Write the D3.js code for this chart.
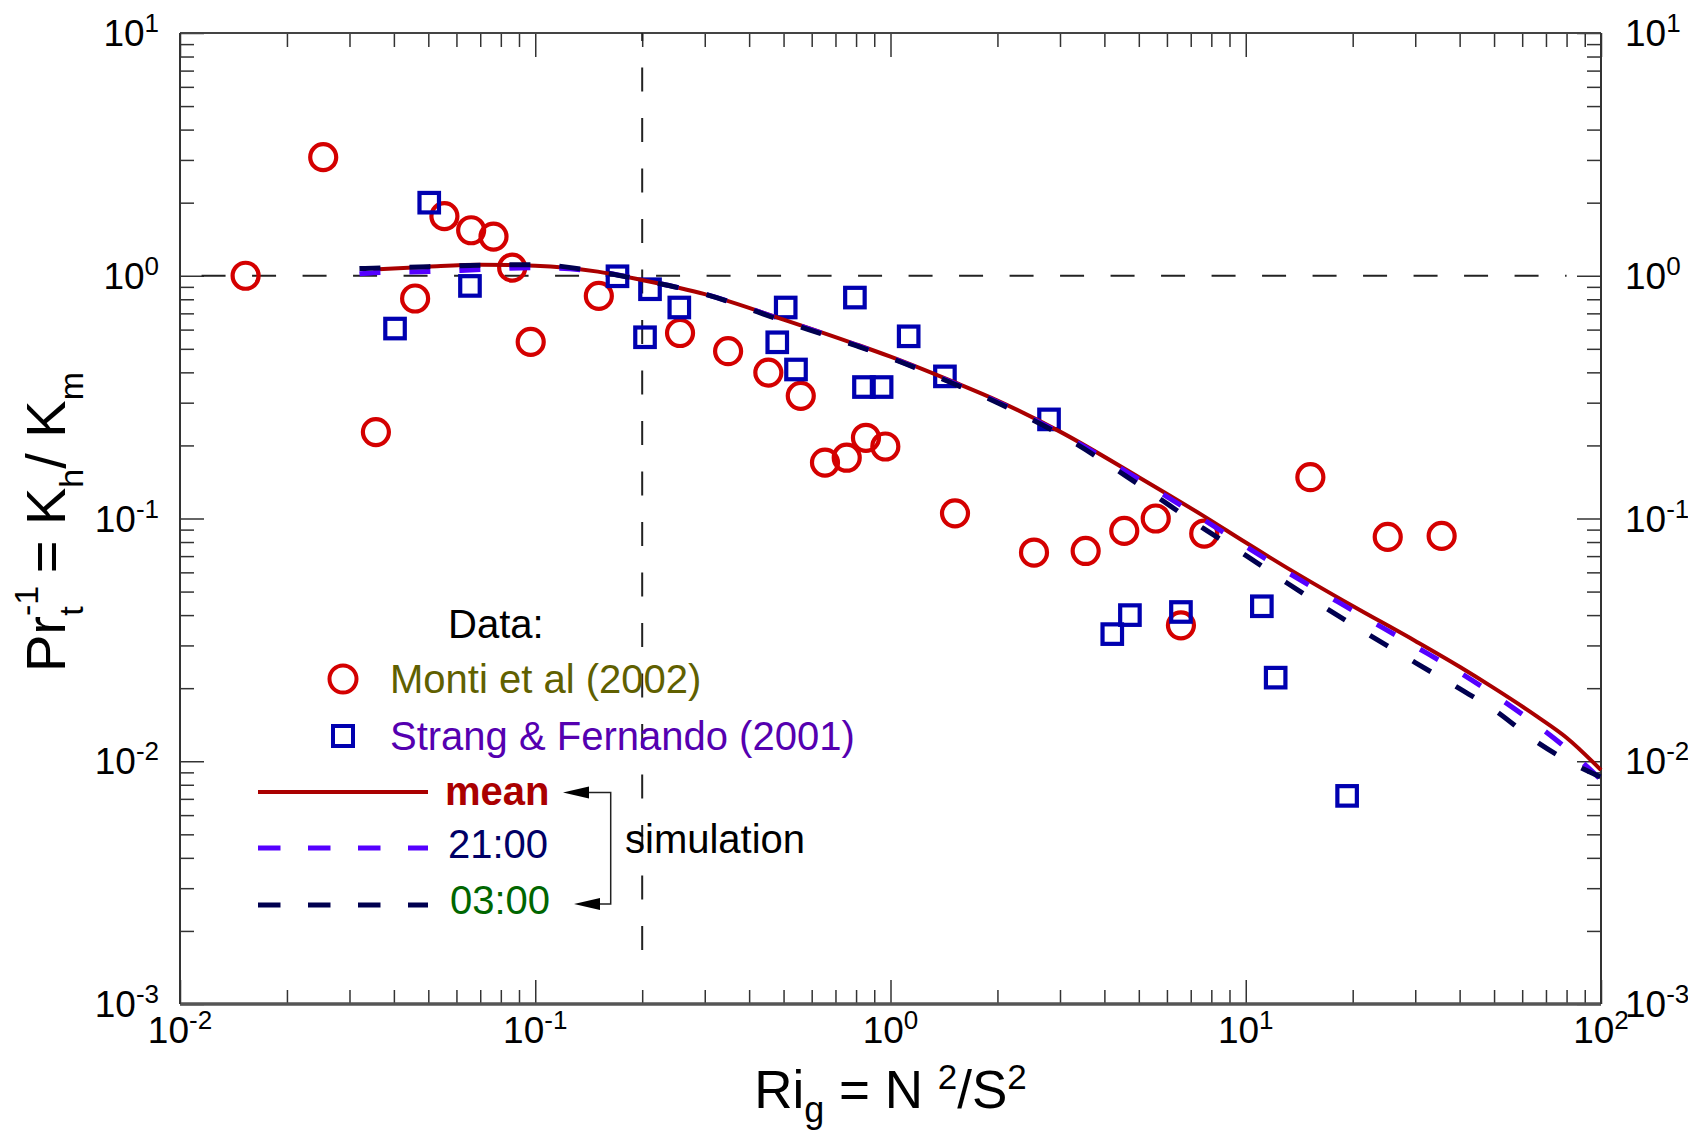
<!DOCTYPE html>
<html>
<head>
<meta charset="utf-8">
<script src="https://cdn.jsdelivr.net/npm/d3@7"></script>
<style>
  body { margin: 0; background: #fff; }
  svg { display: block; font-family: Arial, "Liberation Sans", sans-serif; }
</style>
</head>
<body>
<div id="chart"></div>
<script>
// Monti et al (2002) observations
const montiRi = [0.0153, 0.0253, 0.0356, 0.0459, 0.0555, 0.066, 0.0763, 0.0861, 0.0971, 0.151, 0.2556, 0.349, 0.453, 0.559, 0.654, 0.753, 0.853, 0.967, 1.519, 2.535, 3.543, 4.55, 5.58, 6.57, 7.64, 15.2, 25.1, 35.6];
const montiPr = [1.0, 3.08, 0.227, 0.806, 1.76, 1.54, 1.45, 1.08, 0.534, 0.826, 0.581, 0.489, 0.399, 0.32, 0.17, 0.178, 0.215, 0.198, 0.105, 0.0724, 0.0735, 0.0889, 0.1, 0.0363, 0.0867, 0.148, 0.084, 0.0848];

// Strang & Fernando (2001) observations
const strangRi = [0.0403, 0.0503, 0.0655, 0.1704, 0.2037, 0.2104, 0.2544, 0.48, 0.507, 0.542, 0.794, 0.842, 0.944, 1.125, 1.423, 2.794, 4.21, 4.72, 6.57, 11.1, 12.14, 19.29];
const strangPr = [0.606, 2.0, 0.908, 0.995, 0.558, 0.88, 0.74, 0.532, 0.74, 0.411, 0.813, 0.348, 0.348, 0.563, 0.385, 0.256, 0.0334, 0.04, 0.0412, 0.0435, 0.0221, 0.0072];

// simulation curves (mean starts a little later)
const simRi  = [0.032, 0.035, 0.05, 0.07, 0.1, 0.15, 0.2, 0.3, 0.5, 0.8, 1, 1.5, 2, 3, 5, 7.6, 10, 13, 20, 30, 40, 50, 66, 80, 100];
const meanPr = [null, 1.06, 1.09, 1.11, 1.10, 1.04, 0.96, 0.84, 0.66, 0.522, 0.464, 0.366, 0.306, 0.228, 0.148, 0.1025, 0.0796, 0.0629, 0.0436, 0.0313, 0.0245, 0.0200, 0.0153, 0.0125, 0.0092];
const pr2100 = [1.02, 1.03, 1.04, 1.06, 1.08, 1.04, 0.96, 0.84, 0.655, 0.518, 0.46, 0.362, 0.302, 0.225, 0.145, 0.099, 0.0768, 0.0605, 0.0418, 0.0297, 0.0232, 0.0188, 0.0141, 0.0113, 0.0084];
const pr0300 = [1.07, 1.075, 1.09, 1.105, 1.11, 1.04, 0.96, 0.84, 0.65, 0.515, 0.458, 0.360, 0.300, 0.222, 0.138, 0.091, 0.0705, 0.0545, 0.0365, 0.0255, 0.0199, 0.0163, 0.0120, 0.0101, 0.0086];

// reference lines
const refHRi = [0.0115, 80];     // Pr^-1 = 1
const refVPr = [0.00167, 10];    // Ri = 0.2 (drawn bottom up)
const refVRi = 0.2;

// ticks
const xTickExps = [-2, -1, 0, 1, 2];
const yTickExps = [-3, -2, -1, 0, 1];

const W = 1688, H = 1131;
const margin = { top: 33, right: 87, bottom: 127, left: 180 };

const svg = d3.select("#chart").append("svg")
  .attr("width", W)
  .attr("height", H);

const x = d3.scaleLog().domain([0.01, 100]).range([margin.left, W - margin.right]);
const y = d3.scaleLog().domain([0.001, 10]).range([H - margin.bottom, margin.top]);
const [x0, x1] = x.range();
const [y0, y1] = y.range();

function minorTicks(lo, hi) {
  const t = [];
  for (let e = lo; e < hi; e++) for (let k = 2; k <= 9; k++) t.push(k * Math.pow(10, e));
  return t;
}
const xMajor = xTickExps.map(e => Math.pow(10, e));
const yMajor = yTickExps.map(e => Math.pow(10, e));
const xMinor = minorTicks(-2, 2);
const yMinor = minorTicks(-3, 1);

function styleAxis(g) {
  g.select(".domain").remove();
  g.selectAll(".tick line").attr("stroke", "#333").attr("stroke-width", 1.5);
  g.selectAll(".tick text").remove();
}

[[xMajor, 24], [xMinor, 14]].forEach(([vals, len]) => {
  svg.append("g").attr("transform", `translate(0,${y0})`)
    .call(d3.axisBottom(x).tickValues(vals).tickSizeInner(-len).tickSizeOuter(0).tickFormat(""))
    .call(styleAxis);
  svg.append("g").attr("transform", `translate(0,${y1})`)
    .call(d3.axisTop(x).tickValues(vals).tickSizeInner(-len).tickSizeOuter(0).tickFormat(""))
    .call(styleAxis);
});
[[yMajor, 24], [yMinor, 14]].forEach(([vals, len]) => {
  svg.append("g").attr("transform", `translate(${x0},0)`)
    .call(d3.axisLeft(y).tickValues(vals).tickSizeInner(-len).tickSizeOuter(0).tickFormat(""))
    .call(styleAxis);
  svg.append("g").attr("transform", `translate(${x1},0)`)
    .call(d3.axisRight(y).tickValues(vals).tickSizeInner(-len).tickSizeOuter(0).tickFormat(""))
    .call(styleAxis);
});

// frame
svg.append("line").attr("x1", x0).attr("x2", x1).attr("y1", y0).attr("y2", y0)
  .attr("stroke", "#555").attr("stroke-width", 3.5);
svg.append("line").attr("x1", x0).attr("x2", x1).attr("y1", y1).attr("y2", y1)
  .attr("stroke", "#444").attr("stroke-width", 2);
svg.append("line").attr("x1", x0).attr("x2", x0).attr("y1", y0).attr("y2", y1)
  .attr("stroke", "#333").attr("stroke-width", 2);
svg.append("line").attr("x1", x1).attr("x2", x1).attr("y1", y0).attr("y2", y1)
  .attr("stroke", "#333").attr("stroke-width", 2);

// power-of-ten labels
function powLabel(px, py, exp, anchor) {
  const t = svg.append("text")
    .attr("x", px).attr("y", py)
    .attr("text-anchor", anchor)
    .attr("font-size", 37)
    .attr("fill", "#000");
  t.append("tspan").text("10");
  t.append("tspan").attr("font-size", 26).attr("dy", -14).text(exp);
}
xTickExps.forEach(e => powLabel(x(Math.pow(10, e)), y0 + 39, e, "middle"));
yTickExps.forEach(e => {
  powLabel(x0 - 21, y(Math.pow(10, e)) + 13, e, "end");
  powLabel(x1 + 24, y(Math.pow(10, e)) + 13, e, "start");
});

// axis titles
const xt = svg.append("text")
  .attr("x", (x0 + x1) / 2).attr("y", 1108)
  .attr("text-anchor", "middle")
  .attr("font-size", 53);
xt.append("tspan").text("Ri");
xt.append("tspan").attr("font-size", 36).attr("dy", 14).text("g");
xt.append("tspan").attr("dy", -14).text(" = N ");
xt.append("tspan").attr("font-size", 35).attr("dy", -19).text("2");
xt.append("tspan").attr("dy", 19).text("/S");
xt.append("tspan").attr("font-size", 35).attr("dy", -19).text("2");

const yt = svg.append("text")
  .attr("transform", `translate(65,522) rotate(-90)`)
  .attr("text-anchor", "middle")
  .attr("font-size", 56);
yt.append("tspan").text("Pr");
yt.append("tspan").attr("font-size", 34).attr("dy", -27).text("-1");
yt.append("tspan").attr("font-size", 34).attr("dx", -30).attr("dy", 45).text("t");
yt.append("tspan").attr("dx", 33).attr("dy", -18).text("= K");
yt.append("tspan").attr("font-size", 34).attr("dy", 18).text("h");
yt.append("tspan").attr("dy", -18).text("/ K");
yt.append("tspan").attr("font-size", 34).attr("dy", 18).text("m");

// reference dashed lines
svg.append("line")
  .attr("x1", x(refHRi[0])).attr("x2", x(refHRi[1]))
  .attr("y1", y(1)).attr("y2", y(1))
  .attr("stroke", "#222").attr("stroke-width", 2)
  .attr("stroke-dasharray", "24,26.5");
svg.append("line")
  .attr("x1", x(refVRi)).attr("x2", x(refVRi))
  .attr("y1", y(refVPr[0])).attr("y2", y(refVPr[1]))
  .attr("stroke", "#222").attr("stroke-width", 2)
  .attr("stroke-dasharray", "24,26.5");

// observations
const monti = montiRi.map((r, i) => ({ r, v: montiPr[i] }));
const strang = strangRi.map((r, i) => ({ r, v: strangPr[i] }));

svg.append("g").selectAll("circle")
  .data(monti)
  .enter()
  .append("circle")
  .attr("cx", d => x(d.r))
  .attr("cy", d => y(d.v))
  .attr("r", 13)
  .attr("fill", "none")
  .attr("stroke", "#d40000")
  .attr("stroke-width", 4.2);

const sq = 19.5;
svg.append("g").selectAll("rect")
  .data(strang)
  .enter()
  .append("rect")
  .attr("x", d => x(d.r) - sq / 2)
  .attr("y", d => y(d.v) - sq / 2)
  .attr("width", sq)
  .attr("height", sq)
  .attr("fill", "none")
  .attr("stroke", "#0000b0")
  .attr("stroke-width", 4.2);

// simulation curves
const line = d3.line()
  .defined(d => d.v != null)
  .x(d => x(d.r))
  .y(d => y(d.v))
  .curve(d3.curveMonotoneX);

const curves = [
  { vals: meanPr, color: "#aa0000", width: 4, dash: null },
  { vals: pr2100, color: "#5500ff", width: 5, dash: "21,29" },
  { vals: pr0300, color: "#000050", width: 5, dash: "21,29" }
];
curves.forEach(c => {
  svg.append("path")
    .datum(simRi.map((r, i) => ({ r, v: c.vals[i] })))
    .attr("fill", "none")
    .attr("stroke", c.color)
    .attr("stroke-width", c.width)
    .attr("stroke-dasharray", c.dash)
    .attr("d", line);
});

// legend
const lg = svg.append("g").attr("font-size", 40);
lg.append("text").attr("x", 448).attr("y", 638).attr("fill", "#000").text("Data:");

lg.append("circle").attr("cx", 343).attr("cy", 679).attr("r", 13.5)
  .attr("fill", "none").attr("stroke", "#d40000").attr("stroke-width", 4);
lg.append("text").attr("x", 390).attr("y", 693).attr("fill", "#606000").text("Monti et al (2002)");

lg.append("rect").attr("x", 343 - 10).attr("y", 736 - 10).attr("width", 20).attr("height", 20)
  .attr("fill", "none").attr("stroke", "#0000b0").attr("stroke-width", 4);
lg.append("text").attr("x", 390).attr("y", 750).attr("fill", "#5500b0").text("Strang & Fernando (2001)");

const legLines = [
  { yy: 792, color: "#aa0000", width: 4, dash: null, label: "mean", lx: 445, ly: 805, tc: "#aa0000", bold: true },
  { yy: 848, color: "#5500ff", width: 5, dash: "22.5,27.5", label: "21:00", lx: 448, ly: 858, tc: "#000066", bold: false },
  { yy: 905, color: "#000050", width: 5, dash: "22.5,27.5", label: "03:00", lx: 450, ly: 914, tc: "#006600", bold: false }
];
legLines.forEach(l => {
  lg.append("line").attr("x1", 258).attr("x2", 428).attr("y1", l.yy).attr("y2", l.yy)
    .attr("stroke", l.color).attr("stroke-width", l.width).attr("stroke-dasharray", l.dash);
  lg.append("text").attr("x", l.lx).attr("y", l.ly).attr("fill", l.tc)
    .attr("font-weight", l.bold ? "bold" : "normal").text(l.label);
});

// bracket with arrows pointing at the simulation entries
lg.append("path").attr("d", "M588,792.5 H610.7 V904 H599")
  .attr("fill", "none").attr("stroke", "#222").attr("stroke-width", 1.5);
lg.append("path").attr("d", "M563,792.5 L589,786.5 L589,798.5 Z").attr("fill", "#000");
lg.append("path").attr("d", "M574,904 L600,898 L600,910 Z").attr("fill", "#000");
lg.append("text").attr("x", 625).attr("y", 853).attr("fill", "#000").text("simulation");
</script>
</body>
</html>
